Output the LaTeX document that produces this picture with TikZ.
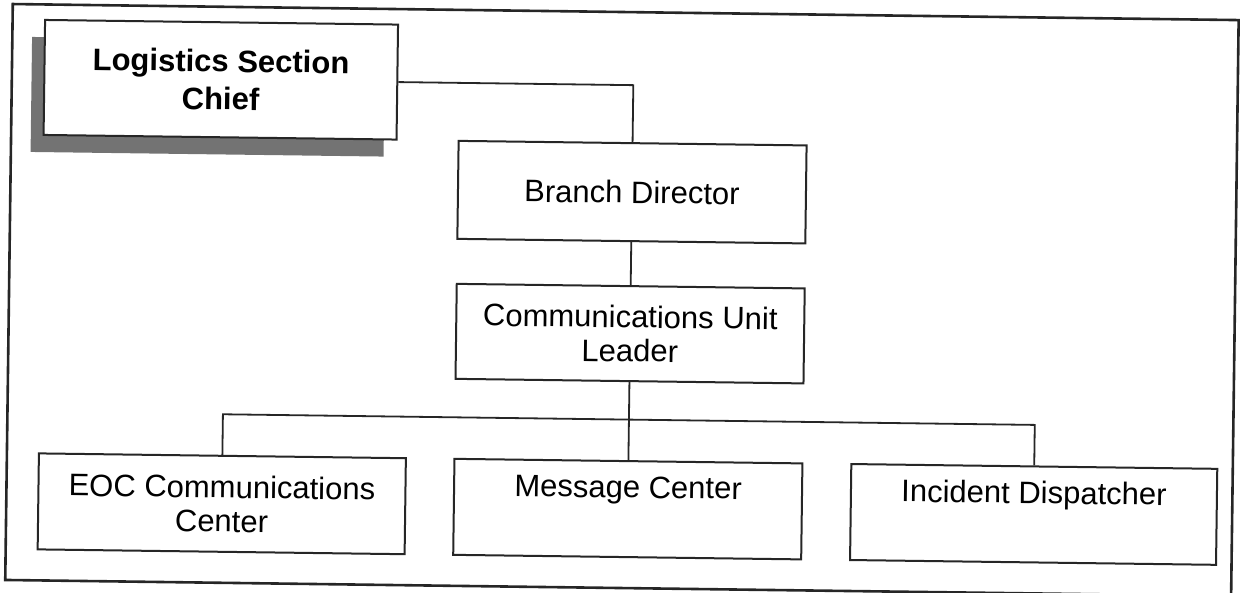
\documentclass[tikz,border=0pt]{standalone}
\usepackage{fontspec}
\setmainfont{Liberation Sans}
\usetikzlibrary{shadows}

\begin{document}
\begin{tikzpicture}[x=0.5pt,y=-0.5pt,
  box/.style={draw=black!85,line width=1pt,fill=white,align=center,inner sep=0pt,
    minimum width=174pt,minimum height=48pt,font=\fontsize{15.5}{17}\selectfont},
  chiefbox/.style={box,minimum width=176.5pt,minimum height=57.5pt,
    font=\fontsize{15.5}{19}\selectfont\bfseries,
    drop shadow={shadow xshift=-6.5pt,shadow yshift=-8.5pt,fill=black!55,opacity=1}},
  link/.style={draw=black!85,line width=0.9pt}]
\useasboundingbox (0,0) rectangle (1241,593);
\begin{scope}[rotate around={-0.75:(620,296)},transform shape]
\draw[black!85,line width=1.3pt] (9,12) rectangle (1235,588);
\node[chiefbox] (chief) at (218,85) {Logistics Section\\Chief};
\node[box,minimum height=49pt] (branch) at (630.6,192) {Branch Director};
\node[box,minimum height=47.5pt] (unit) at (630.6,333.5) {Communications Unit\\Leader};
\node[box,minimum width=183.5pt] (eoc) at (224.5,509) {EOC Communications\\Center};
\node[box] (msg) at (630.6,509) {Message Center\\\strut};
\node[box,minimum width=183pt] (disp) at (1036.5,509) {Incident Dispatcher\\\strut};
\coordinate (bar) at (630.6,419.5);
% connectors
\draw[link] (chief.east) -| (branch.north);
\draw[link] (branch.south) -- (unit.north);
\draw[link] (unit.south) -- (msg.north);
\draw[link] (eoc.north) |- (bar) -| (disp.north);
\end{scope}
\end{tikzpicture}
\end{document}
